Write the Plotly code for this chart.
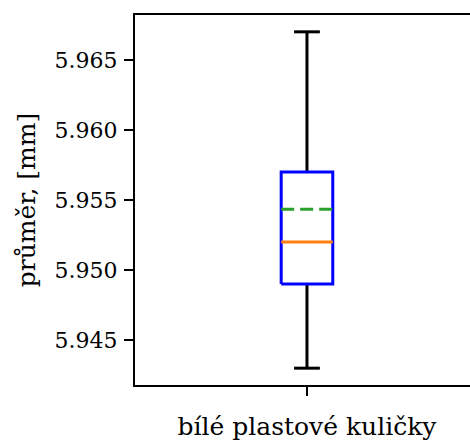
import plotly.graph_objects as go

# Box statistics for the measured ball diameters (mm)
category = "bílé plastové kuličky"
position = 1
whisker_low = 5.943
q1 = 5.949
median = 5.952
mean = 5.95434
q3 = 5.957
whisker_high = 5.967

ytick_vals = [5.945, 5.950, 5.955, 5.960, 5.965]
ytick_text = ["5.945", "5.950", "5.955", "5.960", "5.965"]

box_w = 0.15
cap_w = box_w / 2
FONT = "DejaVu Serif"
NUM_FS = 22
TXT_FS = 25

fig = go.Figure()


def seg(xs, ys, color, width=3, dash="solid"):
    fig.add_trace(go.Scatter(x=xs, y=ys, mode="lines", hoverinfo="skip",
                             line=dict(color=color, width=width, dash=dash),
                             showlegend=False))


# whiskers and caps
seg([position, position], [whisker_low, q1], "black")
seg([position, position], [q3, whisker_high], "black")
seg([position - cap_w / 2, position + cap_w / 2], [whisker_low] * 2, "black")
seg([position - cap_w / 2, position + cap_w / 2], [whisker_high] * 2, "black")

# box
xl, xr = position - box_w / 2, position + box_w / 2
seg([xl, xr, xr, xl, xl], [q1, q1, q3, q3, q1], "blue")

# median and mean
seg([xl, xr], [median, median], "#ff7f0e")
seg([xl, xr], [mean, mean], "#2ca02c", dash="13px,6px")

pad = 0.05 * (whisker_high - whisker_low)

fig.update_layout(
    width=470, height=440,
    margin=dict(l=135, r=0, t=15, b=55),
    plot_bgcolor="white", paper_bgcolor="white",
    font=dict(family=FONT, size=NUM_FS, color="black"),
    showlegend=False,
)
fig.update_xaxes(
    range=[0.5, 1.474], showgrid=False, zeroline=False,
    showline=True, linecolor="black", linewidth=2, mirror=True,
    ticks="outside", ticklen=9, tickwidth=2, tickcolor="black",
    tickvals=[position], ticktext=[category], ticklabelstandoff=9,
    tickfont=dict(family=FONT, size=TXT_FS),
)
fig.update_yaxes(
    range=[whisker_low - pad, whisker_high + pad], showgrid=False, zeroline=False,
    showline=True, linecolor="black", linewidth=2,
    ticks="outside", ticklen=9, tickwidth=2, tickcolor="black",
    tickvals=ytick_vals, ticktext=ytick_text, ticklabelstandoff=2,
    tickfont=dict(family=FONT, size=NUM_FS),
    title=dict(text="průměr, [mm]", font=dict(family=FONT, size=TXT_FS), standoff=12),
)

fig.write_html("out.html")
